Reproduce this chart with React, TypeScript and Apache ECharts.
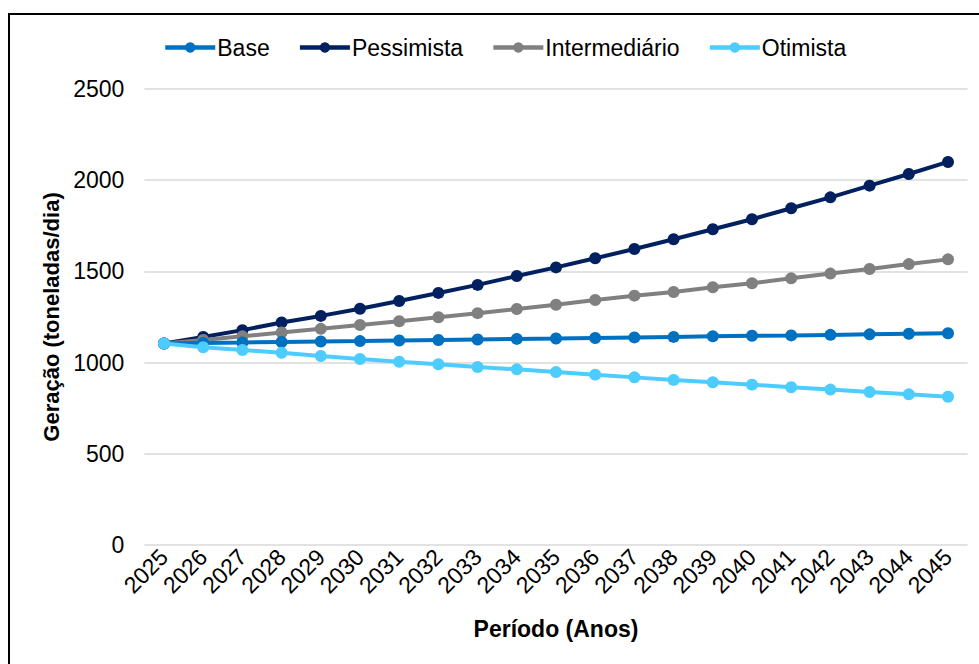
import React, { useEffect, useRef } from "react";
import * as echarts from "echarts";

const years = ["2025","2026","2027","2028","2029","2030","2031","2032","2033","2034","2035","2036","2037","2038","2039","2040","2041","2042","2043","2044","2045"];
const base = [1105,1108,1110,1113,1116,1118,1121,1124,1127,1130,1132,1135,1138,1141,1144,1147,1149,1152,1155,1158,1161];
const pessimista = [1105,1140,1178,1220,1256,1295,1338,1382,1426,1475,1522,1572,1623,1676,1731,1786,1846,1906,1970,2034,2100];
const intermediario = [1105,1124,1144,1165,1185,1206,1227,1249,1271,1294,1317,1343,1367,1387,1413,1435,1462,1488,1513,1540,1566];
const otimista = [1105,1084,1069,1054,1036,1020,1005,991,976,963,948,934,919,905,892,879,865,852,839,826,813];

const names = ["Base", "Pessimista", "Intermediário", "Otimista"];
const colors = ["#0070C0", "#002060", "#808080", "#4DCCFF"];
const yTicks = [0, 500, 1000, 1500, 2000, 2500];

const FONT = "'Liberation Sans', Arial, sans-serif";

export default function App() {
  const ref = useRef<HTMLDivElement>(null);
  useEffect(() => {
    document.body.style.margin = "0";
    const chart = echarts.init(ref.current!, null, { renderer: "svg" });
    const dataSets = [base, pessimista, intermediario, otimista];
    chart.setOption({
      animation: false,
      backgroundColor: "#ffffff",
      textStyle: { fontFamily: FONT },
      graphic: [
        {
          type: "rect",
          shape: { x: 9, y: 14, width: 1000, height: 700 },
          style: { fill: "none", stroke: "#000", lineWidth: 2 },
          z: 100,
        },
      ],
      legend: {
        top: 31,
        left: 158,
        itemWidth: 50,
        itemHeight: 13,
        itemGap: 28,
        lineStyle: { width: 4.5 },
        textStyle: { fontSize: 23, color: "#000", fontFamily: FONT, padding: [0, 0, 0, -3] },
        data: names,
      },
      grid: { left: 144.4, right: 11.4, top: 89, bottom: 119, containLabel: false },
      xAxis: {
        type: "category",
        data: years,
        boundaryGap: true,
        axisLine: { show: false },
        axisTick: { show: false },
        axisLabel: { rotate: 45, fontSize: 23, color: "#000", margin: 8, interval: 0, fontFamily: FONT },
        name: "Período (Anos)",
        nameLocation: "middle",
        nameGap: 72,
        nameTextStyle: { fontSize: 23, fontWeight: "bold", color: "#000", fontFamily: FONT },
      },
      yAxis: {
        type: "value",
        min: yTicks[0],
        max: yTicks[yTicks.length - 1],
        interval: 500,
        axisLine: { show: false },
        axisTick: { show: false },
        splitLine: { lineStyle: { color: "#D9D9D9", width: 1.5 } },
        axisLabel: { fontSize: 23, color: "#000", margin: 20, fontFamily: FONT, formatter: (v: number) => String(v) },
        name: "Geração (toneladas/dia)",
        nameLocation: "middle",
        nameGap: 64,
        nameTextStyle: { fontSize: 22, fontWeight: "bold", color: "#000", fontFamily: FONT },
      },
      series: names.map((n, i) => ({
        name: n,
        type: "line",
        data: dataSets[i],
        color: colors[i],
        symbol: "circle",
        symbolSize: 12,
        lineStyle: { width: 4, color: colors[i] },
        itemStyle: { color: colors[i] },
        z: i === 3 ? 5 : i === 0 ? 4 : 3,
      })),
    });
    return () => chart.dispose();
  }, []);
  return <div ref={ref} style={{ width: 979, height: 664 }} />;
}
